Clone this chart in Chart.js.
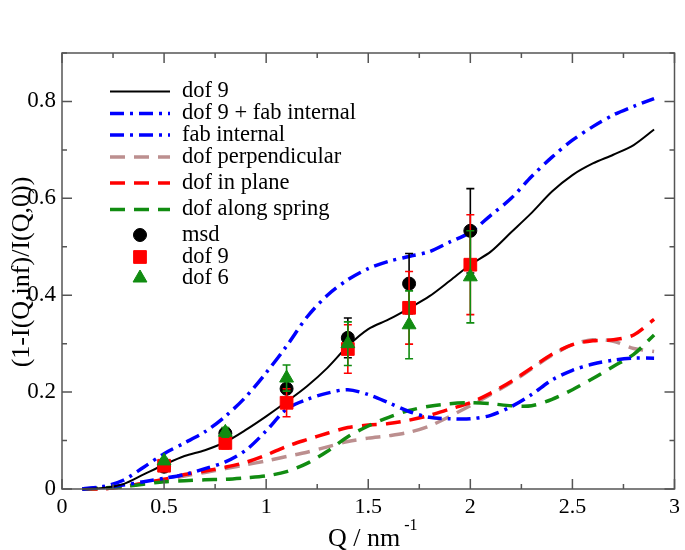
<!DOCTYPE html>
<html><head><meta charset="utf-8">
<script src="https://cdn.jsdelivr.net/npm/chart.js@4/dist/chart.umd.min.js"></script>
<style>html,body{margin:0;padding:0;background:#fff}#wrap{width:685px;height:550px;position:relative}</style>
</head><body><div id="wrap"><canvas id="c" width="685" height="550"></canvas></div>
<script>
// ---- data ----
const qCurve = [0.1,0.2,0.3,0.4,0.5,0.6,0.7,0.8,0.9,1.0,1.1,1.2,1.3,1.4,1.5,1.6,1.7,1.8,1.9,2.0,2.1,2.2,2.3,2.4,2.5,2.6,2.7,2.8,2.9];
const dof9Curve = [0,0.002,0.01,0.03,0.05,0.068,0.08,0.097,0.122,0.15,0.18,0.212,0.25,0.295,0.33,0.35,0.373,0.398,0.43,0.463,0.49,0.53,0.57,0.614,0.648,0.672,0.69,0.71,0.742];
const dof9FabCurve = [0,0.005,0.018,0.045,0.073,0.095,0.118,0.15,0.19,0.24,0.295,0.355,0.4,0.432,0.455,0.47,0.48,0.49,0.51,0.53,0.565,0.6,0.645,0.685,0.72,0.748,0.772,0.79,0.806];
const fabCurve = [0,0.003,0.008,0.015,0.022,0.03,0.042,0.056,0.08,0.12,0.165,0.185,0.198,0.205,0.195,0.178,0.16,0.148,0.145,0.145,0.152,0.17,0.195,0.225,0.245,0.258,0.266,0.27,0.27];
const perpCurve = [0,0,0.005,0.012,0.019,0.027,0.034,0.042,0.05,0.058,0.067,0.076,0.087,0.098,0.105,0.11,0.117,0.13,0.15,0.172,0.195,0.22,0.248,0.276,0.298,0.308,0.305,0.29,0.284];
const planeCurve = [0,0,0.005,0.012,0.02,0.03,0.037,0.045,0.055,0.07,0.088,0.102,0.115,0.127,0.132,0.135,0.142,0.152,0.165,0.178,0.198,0.222,0.25,0.278,0.298,0.306,0.308,0.318,0.35];
const springCurve = [0,0.002,0.005,0.01,0.015,0.017,0.019,0.02,0.023,0.027,0.036,0.053,0.078,0.108,0.13,0.148,0.162,0.171,0.176,0.178,0.176,0.172,0.172,0.185,0.205,0.228,0.253,0.278,0.318];

const qPoints = [0.5,0.8,1.1,1.4,1.7,2.0];
const msdPoints = [0.046,0.115,0.207,0.312,0.424,0.533];
const msdErr = [0.004,0.008,0.02,0.041,0.062,0.087];
const dof9Points = [0.048,0.095,0.178,0.289,0.374,0.463];
const dof9Err = [0.005,0.012,0.029,0.05,0.075,0.103];
const dof6Points = [0.058,0.117,0.229,0.300,0.339,0.438];
const dof6Err = [0.005,0.01,0.027,0.045,0.07,0.095];

const xTickValues = [0,0.5,1,1.5,2,2.5,3];
const xTickLabels = ['0','0.5','1','1.5','2','2.5','3'];
const yTickValues = [0,0.2,0.4,0.6,0.8];
const yTickLabels = ['0','0.2','0.4','0.6','0.8'];

const legendLabels = ['dof 9','dof 9 + fab internal','fab internal','dof perpendicular','dof in plane','dof along spring','msd','dof 9','dof 6'];

// ---- helpers ----
const pts = (xs, ys) => xs.map((x, i) => ({x, y: ys[i]}));
const SERIF = '"Liberation Serif", "DejaVu Serif", serif';
const BLUE = '#0000ff', RED = '#ff0000', GREEN = '#118c11', ROSY = '#bc8f8f';
const DASH = [15, 9], DASHDOT = [14, 6, 3, 6];

function curve(label, data, color, width, dash, order) {
  return {label, data: pts(qCurve, data), showLine: true, borderColor: color, borderWidth: width,
    borderDash: dash, pointRadius: 0, pointHoverRadius: 0, tension: 0.3, fill: false, order, clip: false};
}
function marks(label, data, err, color, style, r, order) {
  return {label, data: pts(qPoints, data), err, showLine: false, backgroundColor: color, borderColor: color,
    borderWidth: 1, pointStyle: style, pointRadius: r, pointHoverRadius: r, order, errColor: color};
}

const datasets = [
  curve(legendLabels[0], dof9Curve, '#000000', 2, [], 3),
  curve(legendLabels[1], dof9FabCurve, BLUE, 3.5, DASHDOT, 4),
  curve(legendLabels[2], fabCurve, BLUE, 3.5, DASHDOT, 5),
  curve(legendLabels[3], perpCurve, ROSY, 3.5, DASH, 8),
  curve(legendLabels[4], planeCurve, RED, 3.5, DASH, 7),
  curve(legendLabels[5], springCurve, GREEN, 3.5, DASH, 6),
  marks(legendLabels[6], msdPoints, msdErr, '#000000', 'circle', 6.5, 2),
  marks(legendLabels[7], dof9Points, dof9Err, RED, 'rect', 9, 1),
  marks(legendLabels[8], dof6Points, dof6Err, GREEN, 'triangle', 8, 0)
];

const legendRowsY = [91.5, 113.5, 135, 157, 183, 209.5, 235, 257, 278];

const errorBars = {
  id: 'errorBars',
  beforeDatasetDraw(chart, args) {
    const ds = chart.data.datasets[args.index];
    if (!ds.err) return;
    const {x: xs, y: ys} = chart.scales;
    const ctx = chart.ctx;
    ctx.save();
    ctx.strokeStyle = ds.errColor; ctx.lineWidth = 1.6; ctx.setLineDash([]);
    ds.data.forEach((p, i) => {
      const px = xs.getPixelForValue(p.x);
      const top = ys.getPixelForValue(p.y + ds.err[i]);
      const bot = ys.getPixelForValue(p.y - ds.err[i]);
      ctx.beginPath();
      ctx.moveTo(px, top); ctx.lineTo(px, bot);
      ctx.moveTo(px - 4, top); ctx.lineTo(px + 4, top);
      ctx.moveTo(px - 4, bot); ctx.lineTo(px + 4, bot);
      ctx.stroke();
    });
    ctx.restore();
  }
};

const frameAndDecor = {
  id: 'frameAndDecor',
  afterDraw(chart) {
    const ctx = chart.ctx, a = chart.chartArea;
    const xs = chart.scales.x, ys = chart.scales.y;
    ctx.save();
    // frame
    ctx.strokeStyle = '#555'; ctx.lineWidth = 1.5; ctx.setLineDash([]);
    ctx.strokeRect(a.left, a.top, a.right - a.left, a.bottom - a.top);
    // inward ticks
    ctx.beginPath();
    for (let v = 0; v <= 3.0001; v += 0.25) {
      const major = Math.abs(v * 2 - Math.round(v * 2)) < 1e-6;
      const L = major ? 10 : 5;
      const px = xs.getPixelForValue(v);
      ctx.moveTo(px, a.bottom); ctx.lineTo(px, a.bottom - L);
      ctx.moveTo(px, a.top); ctx.lineTo(px, a.top + L);
    }
    for (let k = 0; k <= 9; k++) {
      const v = k / 10, major = k % 2 === 0;
      const L = major ? 10 : 5;
      const py = ys.getPixelForValue(v);
      ctx.moveTo(a.left, py); ctx.lineTo(a.left + L, py);
      ctx.moveTo(a.right, py); ctx.lineTo(a.right - L, py);
    }
    ctx.stroke();

    // axis titles
    ctx.fillStyle = '#000';
    ctx.textBaseline = 'alphabetic'; ctx.textAlign = 'left';
    ctx.font = '26px ' + SERIF;
    const t1 = 'Q / nm';
    const w1 = ctx.measureText(t1).width;
    ctx.fillText(t1, 328, 546);
    ctx.font = '16px ' + SERIF;
    ctx.fillText('-1', 328 + w1 + 4, 530);

    ctx.save();
    ctx.translate(22, 272); ctx.rotate(-Math.PI / 2);
    ctx.font = '26px ' + SERIF; ctx.textAlign = 'center'; ctx.textBaseline = 'middle';
    ctx.fillText('(1-I(Q,inf)/I(Q,0))', 0, 0);
    ctx.restore();

    // legend
    const x0 = 110, x1 = 170, tx = 182;
    ctx.font = '22.5px ' + SERIF; ctx.textAlign = 'left'; ctx.textBaseline = 'middle';
    chart.data.datasets.forEach((ds, i) => {
      const y = legendRowsY[i];
      if (ds.showLine) {
        ctx.save();
        ctx.strokeStyle = ds.borderColor; ctx.lineWidth = ds.borderWidth;
        ctx.setLineDash(ds.borderDash || []);
        ctx.beginPath(); ctx.moveTo(x0, y); ctx.lineTo(x1, y); ctx.stroke();
        ctx.restore();
      } else {
        ctx.save();
        ctx.fillStyle = ds.backgroundColor; ctx.strokeStyle = ds.borderColor; ctx.lineWidth = 1;
        Chart.helpers.drawPoint(ctx, {pointStyle: ds.pointStyle, radius: ds.pointRadius, borderWidth: 1, rotation: 0}, 140, y);
        ctx.restore();
      }
      ctx.fillStyle = '#000';
      ctx.fillText(ds.label, tx, y);
    });
    ctx.restore();
  }
};

new Chart(document.getElementById('c'), {
  type: 'scatter',
  data: {datasets},
  options: {
    responsive: false, animation: false,
    layout: {padding: {top: 53, right: 7, left: 0, bottom: 0}},
    plugins: {legend: {display: false}, tooltip: {enabled: false}},
    scales: {
      x: {type: 'linear', min: 0, max: 3,
        afterBuildTicks: s => { s.ticks = xTickValues.map(v => ({value: v})); },
        afterFit: s => { s.height = 61; },
        grid: {display: false, drawTicks: false}, border: {display: false},
        ticks: {autoSkip: false, maxRotation: 0, padding: 5, color: '#000', font: {family: SERIF, size: 22},
          callback: (v) => { const i = xTickValues.findIndex(t => Math.abs(t - v) < 1e-6); return i >= 0 ? xTickLabels[i] : ''; }}
      },
      y: {type: 'linear', min: 0, max: 0.9,
        afterBuildTicks: s => { s.ticks = yTickValues.map(v => ({value: v})); },
        afterFit: s => { s.width = 62; },
        grid: {display: false, drawTicks: false}, border: {display: false},
        ticks: {autoSkip: false, padding: 6, color: '#000', font: {family: SERIF, size: 23},
          callback: (v) => { const i = yTickValues.findIndex(t => Math.abs(t - v) < 1e-6); return i >= 0 ? yTickLabels[i] : ''; }}
      }
    }
  },
  plugins: [errorBars, frameAndDecor]
});
</script></body></html>
